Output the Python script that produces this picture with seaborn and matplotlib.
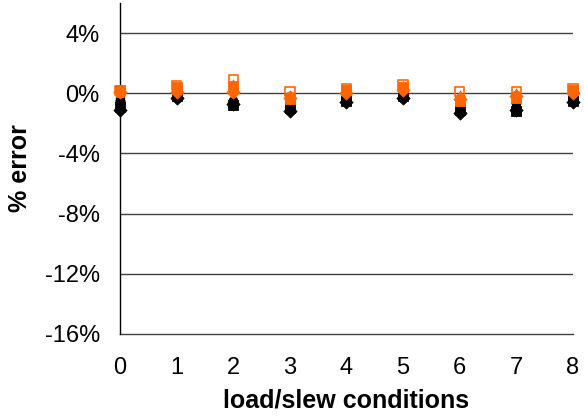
import matplotlib
matplotlib.use("Agg")
import matplotlib.pyplot as plt
import seaborn as sns
import pandas as pd
from matplotlib.ticker import FuncFormatter

conditions = [0, 1, 2, 3, 4, 5, 6, 7, 8]

# percent error per load/slew condition, one list per run
black_diamond = [-1.1, -0.3, -0.7, -1.2, -0.6, -0.3, -1.3, -1.1, -0.6]
black_square = [-0.9, -0.2, -0.8, -1.0, -0.5, -0.2, -1.1, -1.2, -0.5]
black_triangle = [-0.7, -0.1, -0.6, -0.8, -0.4, -0.1, -0.9, -0.9, -0.4]
black_circle = [-0.5, -0.2, -0.5, -0.6, -0.3, -0.2, -0.7, -0.6, -0.3]
black_pentagon = [-0.4, -0.3, -0.7, -0.9, -0.5, -0.3, -1.0, -0.8, -0.4]

orange_open_square = [0.2, 0.5, 0.9, 0.1, 0.3, 0.6, 0.1, 0.1, 0.3]
orange_triangle = [0.1, 0.3, 0.6, -0.1, 0.2, 0.5, -0.1, 0.0, 0.2]
orange_circle = [0.0, 0.2, 0.3, -0.2, 0.1, 0.3, -0.3, -0.1, 0.1]
orange_diamond = [0.1, 0.1, 0.1, -0.3, 0.0, 0.2, -0.4, -0.2, 0.0]
orange_square = [0.2, 0.4, 0.5, -0.4, 0.2, 0.4, -0.5, -0.3, 0.2]

y_ticks = [-16, -12, -8, -4, 0, 4]

series = [
    ("b_diamond", black_diamond, "black", "D", True),
    ("b_square", black_square, "black", "s", True),
    ("b_triangle", black_triangle, "black", "^", True),
    ("b_circle", black_circle, "black", "o", True),
    ("b_pentagon", black_pentagon, "black", "p", True),
    ("o_diamond", orange_diamond, "#FF6600", "D", True),
    ("o_circle", orange_circle, "#FF6600", "o", True),
    ("o_square", orange_square, "#FF6600", "s", True),
    ("o_triangle", orange_triangle, "#FF6600", "^", True),
    ("o_open_square", orange_open_square, "#FF6600", "s", False),
]

sns.set_style("white")
plt.rcParams["font.family"] = ["Liberation Sans", "DejaVu Sans"]
plt.rcParams["text.color"] = "black"
plt.rcParams["axes.labelcolor"] = "black"
plt.rcParams["xtick.color"] = "black"
plt.rcParams["ytick.color"] = "black"

fig = plt.figure(figsize=(5.84, 4.19), dpi=100)
ax = fig.add_axes([0.2055, 0.203, 0.7755, 0.790])

for name, vals, color, marker, filled in series:
    df = pd.DataFrame({"cond": conditions, "err": vals})
    sns.scatterplot(
        data=df, x="cond", y="err", ax=ax, marker=marker, s=45,
        color=color if filled else "none",
        edgecolor=color, linewidth=1.2 if not filled else 0.6,
        zorder=3, clip_on=False,
    )

ax.set_xlim(0, 8)
ax.set_ylim(-16, 6)
ax.set_xticks(conditions)
ax.set_yticks(y_ticks)
ax.yaxis.set_major_formatter(FuncFormatter(lambda v, p: f"{int(v)}%"))
for y in y_ticks[1:]:
    ax.axhline(y, color="#404040", lw=1.0, zorder=1)

for s in ["top", "right"]:
    ax.spines[s].set_visible(False)
ax.spines["left"].set_color("black")
ax.spines["left"].set_linewidth(1.0)
ax.spines["bottom"].set_color("#404040")
ax.spines["bottom"].set_linewidth(1.0)
ax.spines["bottom"].set_zorder(1)
ax.tick_params(axis="both", direction="out", length=5.5, width=1.0,
               color="#404040", labelsize=17, labelcolor="black")
ax.tick_params(axis="y", pad=9)
ax.tick_params(axis="x", pad=11)

ax.set_xlabel("load/slew conditions", fontsize=18, fontweight="bold")
ax.set_ylabel("% error", fontsize=18, fontweight="bold")
ax.xaxis.set_label_coords(0.5, -0.165)
ax.yaxis.set_label_coords(-0.195, 0.5)

fig.savefig("out.png", dpi=100)
